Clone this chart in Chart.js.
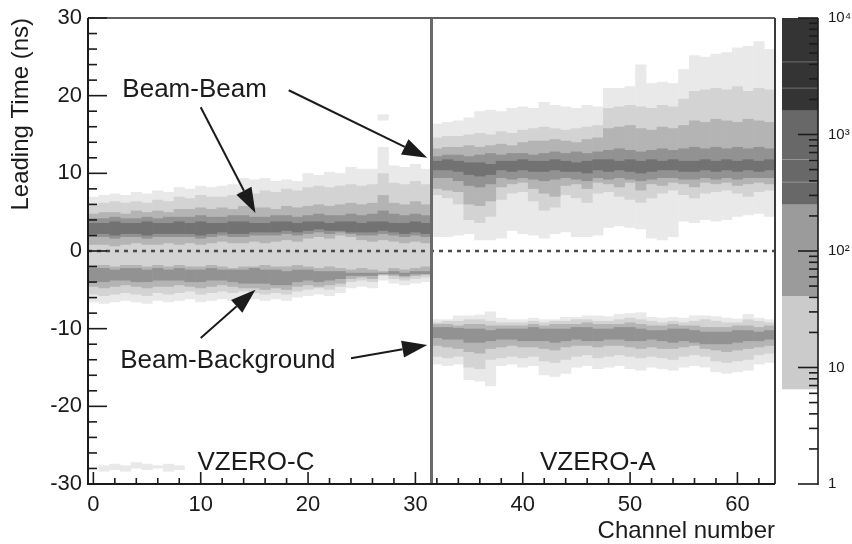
<!DOCTYPE html>
<html>
<head>
<meta charset="utf-8">
<title>VZERO leading time per channel</title>
<script src="https://cdn.jsdelivr.net/npm/chart.js@4.4.1/dist/chart.umd.min.js"></script>
<style>
    html, body { margin: 0; padding: 0; background: #fff; }
    canvas { display: block; }
</style>
</head>
<body>
<canvas id="time-chart" width="852" height="544"></canvas>
<script>
// Channel numbers of the two VZERO arrays
const channelsC = [0, 1, 2, 3, 4, 5, 6, 7, 8, 9, 10, 11, 12, 13, 14, 15,
    16, 17, 18, 19, 20, 21, 22, 23, 24, 25, 26, 27, 28, 29, 30, 31];
const channelsA = [32, 33, 34, 35, 36, 37, 38, 39, 40, 41, 42, 43, 44, 45, 46, 47,
    48, 49, 50, 51, 52, 53, 54, 55, 56, 57, 58, 59, 60, 61, 62, 63];

// Axis ticks
const xTickValues = [0, 10, 20, 30, 40, 50, 60];
const yTickValues = [-30, -20, -10, 0, 10, 20, 30];
const zTickValues = [1, 10, 100, 1000, 10000];
const zTickLabels = ['1', '10', '10²', '10³', '10⁴'];

// Palette: count edges of each grey level, and the contour lines inside them
const zLevelEdges = [6.5, 41, 250, 1600, 10000];
const zLevelColors = ['#cbcbcb', '#9b9b9b', '#686868', '#343434'];
const zContourLines = [390, 610, 2500, 4200];

// Greys of the occupancy levels in the histogram, light to dark
const levelColors = ['#e9e9e9', '#d3d3d3', '#b4b4b4', '#929292', '#727272'];

// VZERO-C: outer levels span both peaks (ns)
const cTop1 = [7.0, 7.2, 7.4, 7.2, 7.6, 7.4, 7.8, 7.6, 8.2, 8.0, 8.4, 8.2, 8.4, 8.6, 9.4, 9.2,
    9.4, 9.0, 9.2, 9.0, 10.0, 9.8, 10.2, 10.0, 10.8, 10.6, 10.6, 13.4, 11.0, 10.8, 11.2, 10.6];
const cBot1 = [-6.6, -6.8, -6.6, -6.4, -6.6, -6.8, -6.4, -6.6, -6.4, -6.2, -6.6, -6.4, -6.2, -6.4, -6.0, -6.2,
    -6.4, -6.2, -6.4, -6.0, -5.8, -5.6, -5.8, -5.4, -4.8, -4.6, -4.8, -3.8, -4.2, -4.4, -4.2, -4.0];
const cTop2 = [6.0, 6.2, 6.4, 6.2, 6.4, 6.2, 6.6, 6.4, 7.0, 6.8, 7.2, 7.0, 7.0, 7.2, 7.6, 7.4,
    7.8, 7.6, 8.0, 7.8, 8.2, 8.4, 8.2, 8.4, 8.6, 8.4, 8.6, 10.0, 8.8, 8.6, 9.0, 8.6];
const cBot2 = [-5.6, -5.8, -5.6, -5.4, -5.6, -5.8, -5.4, -5.6, -5.4, -5.2, -5.6, -5.4, -5.2, -5.4, -5.2, -5.4,
    -5.6, -5.4, -5.6, -5.2, -5.0, -4.8, -5.0, -4.6, -4.0, -3.8, -4.0, -3.2, -3.6, -3.8, -3.6, -3.4];

// VZERO-C beam-beam peak
const cBBTop3 = [4.8, 5.0, 5.0, 4.8, 5.2, 5.0, 5.2, 5.0, 5.4, 5.4, 5.6, 5.4, 5.6, 5.4, 5.8, 5.6,
    5.6, 5.4, 5.8, 5.6, 5.8, 6.0, 5.8, 6.0, 6.2, 6.0, 6.2, 7.2, 6.2, 6.0, 6.4, 6.0];
const cBBBot3 = [0.8, 0.8, 0.6, 0.8, 1.0, 0.8, 0.8, 1.0, 0.8, 1.0, 0.8, 1.0, 1.2, 1.0, 1.0, 1.2,
    1.0, 1.2, 1.4, 1.2, 1.6, 1.8, 1.6, 2.0, 1.8, 1.4, 1.2, 1.4, 1.2, 1.0, 1.2, 1.0];
const cBBTop4 = [4.2, 4.2, 4.4, 4.2, 4.2, 4.4, 4.2, 4.4, 4.4, 4.4, 4.6, 4.4, 4.4, 4.6, 4.6, 4.4,
    4.4, 4.6, 4.6, 4.4, 4.6, 4.8, 4.6, 4.6, 4.8, 4.6, 4.8, 5.2, 4.8, 4.6, 4.8, 4.6];
const cBBBot4 = [1.8, 1.8, 1.6, 1.8, 1.8, 1.6, 1.8, 1.8, 1.8, 1.8, 1.6, 1.8, 2.0, 1.8, 1.8, 2.0,
    2.0, 2.0, 2.2, 2.0, 2.2, 2.4, 2.2, 2.4, 2.2, 2.0, 2.0, 2.2, 2.0, 1.8, 2.0, 1.8];
const cBBTop5 = [3.6, 3.6, 3.8, 3.6, 3.6, 3.8, 3.6, 3.6, 3.8, 3.6, 3.8, 3.6, 3.6, 3.8, 3.8, 3.6,
    3.6, 3.8, 3.8, 3.6, 3.8, 3.8, 3.6, 3.8, 3.8, 3.6, 3.8, 3.8, 3.6, 3.6, 3.8, 3.6];
const cBBBot5 = [2.2, 2.2, 2.0, 2.2, 2.2, 2.0, 2.2, 2.2, 2.2, 2.2, 2.0, 2.2, 2.4, 2.2, 2.2, 2.4,
    2.4, 2.4, 2.6, 2.4, 2.6, 2.8, 2.6, 2.6, 2.4, 2.4, 2.4, 2.6, 2.4, 2.2, 2.4, 2.2];

// VZERO-C beam-background peak
const cBGTop3 = [-1.8, -1.8, -2.0, -1.8, -1.8, -2.0, -1.8, -2.0, -1.8, -2.0, -2.0, -1.8, -2.0, -2.2, -2.0, -2.0,
    -1.8, -2.0, -2.0, -1.8, -2.0, -2.2, -2.0, -2.2, -2.4, -2.2, -2.4, -2.6, -2.2, -2.4, -2.2, -2.0];
const cBGBot3 = [-4.6, -4.8, -4.6, -4.4, -4.6, -4.8, -4.6, -4.6, -4.4, -4.6, -4.8, -4.6, -4.4, -4.6, -4.8, -4.8,
    -5.0, -4.8, -5.0, -4.6, -4.4, -4.6, -4.4, -4.2, -3.6, -3.4, -3.6, -3.0, -3.2, -3.4, -3.2, -3.0];
const cBGTop4 = [-2.2, -2.2, -2.4, -2.2, -2.2, -2.4, -2.2, -2.4, -2.2, -2.4, -2.4, -2.2, -2.4, -2.4, -2.4, -2.2,
    -2.4, -2.4, -2.6, -2.4, -2.4, -2.6, -2.6, -2.6, -2.8, -2.8, -2.8, -2.8, -2.6, -2.8, -2.6, -2.6];
const cBGBot4 = [-4.0, -4.0, -3.8, -3.8, -4.0, -4.0, -3.8, -3.8, -3.8, -4.0, -4.0, -3.8, -3.8, -4.0, -4.2, -4.2,
    -4.2, -4.4, -4.4, -4.0, -3.8, -4.0, -3.8, -3.6, -3.2, -3.2, -3.2, -3.0, -3.0, -3.2, -3.0, -3.0];

// VZERO-A beam-beam peak
const aBBTop1 = [16.4, 16.6, 16.8, 17.2, 18.0, 18.2, 18.0, 18.4, 18.6, 18.4, 19.2, 18.8, 18.6, 18.4, 18.8, 18.6,
    21.0, 21.0, 21.2, 24.0, 21.6, 21.8, 21.6, 23.4, 25.2, 25.0, 25.4, 25.6, 26.2, 26.4, 27.0, 26.0];
const aBBBot1 = [1.8, 1.8, 2.0, 2.2, 1.4, 1.4, 1.6, 2.6, 2.2, 2.0, 1.6, 2.2, 2.4, 1.8, 1.8, 2.0,
    3.0, 3.2, 3.0, 2.8, 1.6, 1.4, 1.8, 3.8, 3.6, 4.0, 3.8, 4.0, 4.4, 4.6, 4.8, 4.4];
const aBBTop2 = [14.6, 14.8, 14.8, 15.0, 15.2, 15.0, 15.4, 15.2, 15.6, 15.8, 16.0, 15.8, 15.6, 15.8, 16.0, 16.2,
    18.4, 18.6, 18.8, 18.6, 18.4, 18.8, 18.6, 19.6, 20.6, 20.8, 21.0, 20.8, 21.2, 20.6, 21.0, 20.8];
const aBBBot2 = [7.2, 6.8, 6.0, 4.0, 3.6, 4.4, 6.6, 7.4, 7.6, 6.4, 5.2, 5.6, 7.2, 6.8, 6.2, 7.4,
    7.6, 7.0, 6.6, 6.2, 6.8, 7.4, 7.8, 7.2, 6.8, 7.4, 7.6, 7.8, 7.4, 7.0, 7.6, 7.8];
const aBBTop3 = [13.2, 13.4, 13.4, 13.6, 13.4, 13.6, 13.8, 13.6, 14.0, 14.2, 14.2, 14.4, 14.2, 14.0, 14.4, 14.6,
    15.8, 16.0, 16.2, 15.8, 15.6, 16.0, 15.8, 16.2, 16.8, 16.6, 17.0, 16.8, 16.6, 17.0, 16.8, 16.6];
const aBBBot3 = [8.0, 7.8, 7.6, 6.0, 5.8, 6.4, 8.2, 8.6, 8.8, 8.0, 7.4, 7.0, 8.4, 8.6, 8.0, 8.8,
    8.6, 8.2, 8.8, 7.8, 8.6, 8.4, 8.8, 8.6, 8.2, 8.8, 8.6, 8.8, 8.4, 8.6, 8.8, 8.6];
const aBBTop4 = [12.2, 12.4, 12.4, 12.2, 12.4, 12.6, 12.4, 12.6, 12.6, 12.4, 12.6, 12.8, 12.6, 12.8, 12.6, 12.8,
    13.0, 13.2, 13.0, 12.8, 13.0, 13.2, 13.0, 13.2, 13.4, 13.2, 13.4, 13.2, 13.4, 13.2, 13.4, 13.2];
const aBBBot4 = [9.4, 9.4, 9.0, 8.4, 8.2, 8.6, 9.4, 9.2, 9.4, 9.2, 9.0, 9.2, 9.4, 9.2, 9.0, 9.4,
    9.2, 9.4, 9.2, 9.0, 9.2, 9.4, 9.4, 9.2, 9.2, 9.4, 9.2, 9.4, 9.2, 9.4, 9.4, 9.4];
const aBBTop5 = [11.6, 11.8, 11.6, 11.4, 11.4, 11.2, 11.6, 11.6, 11.8, 11.6, 11.6, 11.8, 11.6, 11.4, 11.6, 11.8,
    11.8, 11.6, 11.8, 11.6, 11.8, 11.6, 11.8, 11.6, 11.6, 11.8, 11.6, 11.8, 11.6, 11.8, 11.6, 11.8];
const aBBBot5 = [10.4, 10.4, 10.2, 9.8, 9.6, 9.8, 10.4, 10.2, 10.4, 10.2, 10.2, 10.4, 10.2, 10.2, 10.0, 10.4,
    10.2, 10.4, 10.2, 10.0, 10.2, 10.4, 10.4, 10.2, 10.2, 10.4, 10.2, 10.4, 10.2, 10.4, 10.2, 10.4];

// VZERO-A beam-background peak
const aBGTop1 = [-8.8, -8.8, -8.3, -8.3, -8.2, -7.8, -8.6, -8.8, -8.8, -8.6, -8.8, -8.8, -8.5, -8.5, -8.3, -8.3,
    -8.4, -8.1, -8.0, -7.9, -8.5, -8.6, -8.5, -8.6, -8.3, -8.3, -8.4, -8.6, -8.7, -8.1, -8.6, -8.8];
const aBGBot1 = [-14.6, -14.8, -14.6, -16.6, -16.8, -17.4, -14.8, -14.6, -15.0, -14.8, -16.0, -16.2, -15.8, -15.0, -14.8, -15.2,
    -15.0, -14.8, -15.2, -15.4, -15.0, -15.2, -15.4, -15.0, -14.8, -15.0, -15.6, -15.8, -15.6, -15.4, -14.6, -14.4];
const aBGTop2 = [-9.2, -9.0, -9.0, -8.8, -8.8, -9.0, -9.2, -9.2, -9.2, -9.0, -9.2, -9.0, -9.0, -8.8, -8.8, -9.0,
    -9.0, -8.8, -8.6, -8.8, -9.0, -9.2, -9.0, -9.2, -9.0, -8.8, -9.0, -9.2, -9.2, -8.8, -9.0, -9.2];
const aBGBot2 = [-13.6, -13.8, -13.6, -15.0, -15.2, -14.0, -13.8, -13.6, -13.8, -13.6, -14.2, -14.4, -14.0, -13.6, -13.4, -13.8,
    -13.6, -13.4, -13.6, -13.8, -13.6, -13.8, -14.0, -13.6, -13.4, -13.6, -14.2, -14.4, -14.2, -14.0, -13.4, -13.2];
const aBGTop3 = [-9.4, -9.4, -9.6, -9.4, -9.4, -9.6, -9.6, -9.6, -9.6, -9.4, -9.6, -9.4, -9.4, -9.4, -9.2, -9.4,
    -9.4, -9.4, -9.2, -9.4, -9.6, -9.6, -9.4, -9.6, -9.6, -9.8, -9.8, -9.8, -9.6, -9.6, -9.8, -9.6];
const aBGBot3 = [-12.2, -12.4, -12.6, -13.0, -13.2, -12.6, -12.4, -12.2, -12.4, -12.4, -12.6, -12.8, -12.4, -12.2, -12.2, -12.4,
    -12.2, -12.2, -12.4, -12.6, -12.4, -12.6, -12.6, -12.4, -12.2, -12.6, -12.8, -13.0, -12.8, -12.6, -12.4, -12.2];
const aBGTop4 = [-9.8, -9.8, -9.9, -10.0, -10.0, -10.2, -10.0, -10.0, -10.0, -9.8, -10.0, -10.0, -10.0, -9.8, -9.8, -10.0,
    -10.0, -9.8, -9.8, -10.0, -10.2, -10.2, -10.0, -10.0, -10.2, -10.4, -10.4, -10.4, -10.2, -10.2, -10.4, -10.2];
const aBGBot4 = [-11.2, -11.4, -11.4, -11.8, -11.8, -11.6, -11.4, -11.4, -11.6, -11.6, -11.6, -11.8, -11.6, -11.4, -11.6, -11.6,
    -11.4, -11.4, -11.6, -11.6, -11.4, -11.6, -11.8, -11.6, -11.8, -12.0, -12.0, -12.0, -11.8, -11.6, -11.6, -11.4];

// Isolated low-count cells
const strayChannels = [1, 2, 3, 4, 5, 6, 7, 8, 27];
const strayLo = [-28.4, -28.2, -28.4, -28.0, -28.2, -28.0, -28.4, -28.2, 16.8];
const strayHi = [-27.6, -27.4, -27.6, -27.2, -27.4, -27.6, -27.4, -27.6, 17.6];

// Labels and arrows, in channel / ns units
const noteText = ['Beam-Beam', 'Beam-Background', 'VZERO-C', 'VZERO-A'];
const noteX = [2.7, 2.5, 9.7, 41.6];
const noteY = [19.8, -15.1, -28.2, -28.2];
const arrowFrom = [[10.0, 18.5], [18.2, 20.7], [10.0, -11.2], [24.0, -13.8]];
const arrowTo = [[15.1, 4.9], [31.1, 12.0], [15.1, -5.0], [31.1, -12.1]];

const FONT = '"Liberation Sans", Arial, Helvetica, sans-serif';
const INK = '#1b1b1b';

// one grey level of a peak as floating bars, one bar per channel
function band(channels, lo, hi, level) {
    return {
        data: channels.map((ch, i) => ({ x: ch, y: [lo[i], hi[i]] })),
        backgroundColor: levelColors[level],
        order: levelColors.length - level
    };
}

const datasets = [
    band(channelsC, cBot1, cTop1, 0),
    band(channelsA, aBBBot1, aBBTop1, 0),
    band(channelsA, aBGBot1, aBGTop1, 0),
    band(strayChannels, strayLo, strayHi, 0),
    band(channelsC, cBot2, cTop2, 1),
    band(channelsA, aBBBot2, aBBTop2, 1),
    band(channelsA, aBGBot2, aBGTop2, 1),
    band(channelsC, cBBBot3, cBBTop3, 2),
    band(channelsC, cBGBot3, cBGTop3, 2),
    band(channelsA, aBBBot3, aBBTop3, 2),
    band(channelsA, aBGBot3, aBGTop3, 2),
    band(channelsC, cBBBot4, cBBTop4, 3),
    band(channelsC, cBGBot4, cBGTop4, 3),
    band(channelsA, aBBBot4, aBBTop4, 3),
    band(channelsA, aBGBot4, aBGTop4, 3),
    band(channelsC, cBBBot5, cBBTop5, 4),
    band(channelsA, aBBBot5, aBBTop5, 4)
];

function line(ctx, x1, y1, x2, y2) {
    ctx.beginPath();
    ctx.moveTo(x1, y1);
    ctx.lineTo(x2, y2);
    ctx.stroke();
}

function arrow(ctx, x1, y1, x2, y2) {
    const ang = Math.atan2(y2 - y1, x2 - x1);
    const head = 25, half = 8.5;
    const bx = x2 - head * Math.cos(ang), by = y2 - head * Math.sin(ang);
    line(ctx, x1, y1, bx, by);
    ctx.beginPath();
    ctx.moveTo(x2, y2);
    ctx.lineTo(bx + half * Math.sin(ang), by - half * Math.cos(ang));
    ctx.lineTo(bx - half * Math.sin(ang), by + half * Math.cos(ang));
    ctx.closePath();
    ctx.fill();
}

// keep the axis boxes at a fixed size and stop them from padding the chart area
function fixedBox(size) {
    return s => {
        if (s.isHorizontal()) {
            s.height = size;
        } else {
            s.width = size;
        }
        s.paddingTop = 0;
        s.paddingBottom = 0;
        s.paddingLeft = 0;
        s.paddingRight = 0;
    };
}

// frame, tick marks, zero line, detector divider, palette and labels
const decorations = {
    id: 'decorations',
    afterDatasetsDraw(chart) {
        const { ctx, chartArea: a, scales: { x, y, z } } = chart;
        ctx.save();

        // t = 0 reference
        const y0 = y.getPixelForValue(0);
        ctx.strokeStyle = '#4a4a4a';
        ctx.lineWidth = 2.5;
        ctx.setLineDash([4, 5]);
        line(ctx, a.left, y0, a.right, y0);
        ctx.setLineDash([]);

        // boundary between VZERO-C and VZERO-A channels
        ctx.strokeStyle = '#6a6a6a';
        ctx.lineWidth = 3;
        const xd = x.getPixelForValue(31.5);
        line(ctx, xd, a.top, xd, a.bottom);

        // box
        ctx.lineWidth = 2;
        ctx.strokeStyle = '#5e5e5e';
        line(ctx, a.left, a.top, a.right, a.top);
        ctx.strokeStyle = '#3a3a3a';
        line(ctx, a.right, a.top, a.right, a.bottom);
        ctx.strokeStyle = INK;
        line(ctx, a.left, a.top, a.left, a.bottom + 1);
        line(ctx, a.left - 1, a.bottom, a.right, a.bottom);

        // tick marks pointing into the frame
        ctx.lineWidth = 1.6;
        for (let v = -30; v <= 30; v += 2) {
            const py = y.getPixelForValue(v);
            line(ctx, a.left, py, a.left + (v % 10 === 0 ? 19 : 9), py);
        }
        for (let v = 0; v <= 62; v += 2) {
            const px = x.getPixelForValue(v);
            line(ctx, px, a.bottom, px, a.bottom - (v % 10 === 0 ? 12 : 6));
        }

        // palette
        const barL = a.right + 7, barR = a.right + 43;
        for (let i = 0; i < zLevelColors.length; i++) {
            const top = z.getPixelForValue(zLevelEdges[i + 1]);
            const bot = z.getPixelForValue(zLevelEdges[i]);
            ctx.fillStyle = zLevelColors[i];
            ctx.fillRect(barL, top, barR - barL, bot - top);
        }
        ctx.strokeStyle = 'rgba(255,255,255,0.3)';
        ctx.lineWidth = 1;
        zContourLines.forEach(v => {
            const py = z.getPixelForValue(v);
            line(ctx, barL, py, barR, py);
        });
        ctx.strokeStyle = INK;
        ctx.lineWidth = 1.6;
        line(ctx, barR, a.top, barR, a.bottom + 1);
        for (let d = 0; d < 4; d++) {
            for (let k = 1; k < 10; k++) {
                const py = z.getPixelForValue(k * Math.pow(10, d));
                line(ctx, barR - (k === 1 ? 20 : 9), py, barR, py);
            }
        }
        const pTop = z.getPixelForValue(10000);
        line(ctx, barR - 20, pTop, barR, pTop);

        // annotations
        ctx.fillStyle = INK;
        ctx.strokeStyle = INK;
        ctx.lineWidth = 2;
        ctx.font = '26px ' + FONT;
        ctx.textBaseline = 'alphabetic';
        ctx.textAlign = 'left';
        noteText.forEach((t, i) => {
            ctx.fillText(t, x.getPixelForValue(noteX[i]), y.getPixelForValue(noteY[i]));
        });
        arrowFrom.forEach((f, i) => {
            const t = arrowTo[i];
            arrow(ctx, x.getPixelForValue(f[0]), y.getPixelForValue(f[1]),
                x.getPixelForValue(t[0]), y.getPixelForValue(t[1]));
        });

        ctx.restore();
    }
};

new Chart(document.getElementById('time-chart'), {
    type: 'bar',
    data: { datasets: datasets },
    options: {
        responsive: false,
        animation: false,
        events: [],
        layout: { padding: { top: 18, left: 0, right: 0, bottom: 0 } },
        datasets: {
            bar: { grouped: false, barPercentage: 1.04, categoryPercentage: 1, borderWidth: 0 }
        },
        plugins: {
            legend: { display: false },
            tooltip: { enabled: false }
        },
        scales: {
            x: {
                type: 'linear',
                min: -0.5,
                max: 63.5,
                offset: false,
                grid: { display: false, drawTicks: false },
                border: { display: false },
                afterBuildTicks: s => { s.ticks = xTickValues.map(v => ({ value: v })); },
                afterFit: fixedBox(60),
                ticks: { padding: 8, autoSkip: false, maxRotation: 0, color: INK, font: { family: FONT, size: 22 } },
                title: {
                    display: true, text: 'Channel number', align: 'end', color: INK,
                    font: { family: FONT, size: 24 }, padding: { top: 0, bottom: -2 }
                }
            },
            y: {
                type: 'linear',
                position: 'left',
                min: -30,
                max: 30,
                grid: { display: false, drawTicks: false },
                border: { display: false },
                afterBuildTicks: s => { s.ticks = yTickValues.map(v => ({ value: v })); },
                afterFit: fixedBox(88),
                ticks: { padding: 6, color: INK, font: { family: FONT, size: 22 } },
                title: {
                    display: true, text: 'Leading Time (ns)', align: 'end', color: INK,
                    font: { family: FONT, size: 24 }, padding: { top: 7, bottom: 0 }
                }
            },
            z: {
                type: 'logarithmic',
                axis: 'y',
                position: 'right',
                min: 1,
                max: 10000,
                grid: { display: false, drawTicks: false },
                border: { display: false },
                afterBuildTicks: s => { s.ticks = zTickValues.map(v => ({ value: v })); },
                afterFit: fixedBox(77),
                ticks: {
                    padding: 53, color: INK, font: { family: FONT, size: 15 },
                    callback: (v, i) => zTickLabels[i]
                }
            }
        }
    },
    plugins: [decorations]
});
</script>
</body>
</html>
